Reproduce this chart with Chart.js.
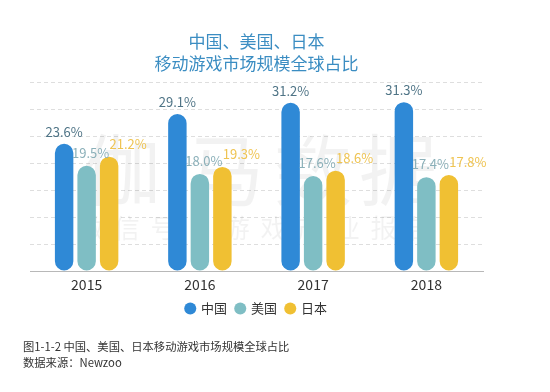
<!DOCTYPE html>
<html>
<head>
<meta charset="utf-8">
<script src="https://cdn.jsdelivr.net/npm/chart.js@4"></script>
<style>
  html, body { margin: 0; padding: 0; background: #fff; }
  #wrap { position: relative; width: 550px; height: 392px; }
  .note {
    position: absolute; left: 23px; font: 11.3px "Noto Sans CJK SC", sans-serif;
    color: #333; white-space: nowrap;
  }
</style>
</head>
<body>
<div id="wrap">
  <canvas id="shareChart" width="550" height="392"></canvas>
  <div class="note" style="top:338px">图1-1-2 中国、美国、日本移动游戏市场规模全球占比</div>
  <div class="note" style="top:354px">数据来源：Newzoo</div>
</div>
<script>
const years = ["2015", "2016", "2017", "2018"];
const chinaShare = [23.6, 29.1, 31.2, 31.3];
const usShare = [19.5, 18.0, 17.6, 17.4];
const japanShare = [21.2, 19.3, 18.6, 17.8];

const FONT = '"Noto Sans CJK SC", "Noto Sans", sans-serif';

// label placement per series (relative to bar top)
const labelStyle = [
  { color: "#4f7486", dx: 0, dy: -12 },
  { color: "#8bb0b9", dx: 4, dy: -13 },
  { color: "#efc452", dx: 19, dy: -13 },
];

const valueLabels = {
  id: "valueLabels",
  afterDatasetsDraw(chart) {
    const ctx = chart.ctx;
    ctx.save();
    ctx.font = "13px " + FONT;
    ctx.textAlign = "center";
    ctx.textBaseline = "middle";
    chart.data.datasets.forEach((ds, i) => {
      const st = labelStyle[i];
      chart.getDatasetMeta(i).data.forEach((bar, j) => {
        ctx.fillStyle = st.color;
        ctx.fillText(ds.data[j].toFixed(1) + "%", bar.x + st.dx, bar.y + st.dy);
      });
    });
    ctx.restore();
  },
};

// faint watermark behind the bars
const watermark = {
  id: "watermark",
  beforeDatasetsDraw(chart) {
    const ctx = chart.ctx;
    ctx.save();
    ctx.fillStyle = "rgba(0,0,0,0.05)";
    ctx.textAlign = "center";
    ctx.textBaseline = "middle";
    ctx.font = "78px " + FONT;
    [["伽", 122], ["马", 225], ["数", 313], ["据", 398]].forEach(([t, x]) => {
      ctx.fillText(t, x, 170);
    });
    ctx.font = "26px " + FONT;
    "微信号：游戏产业报告".split("").forEach((t, k) => {
      ctx.fillText(t, 90 + k * 36.7, 228);
    });
    ctx.restore();
  },
};

const ctx = document.getElementById("shareChart").getContext("2d");

new Chart(ctx, {
  type: "bar",
  data: {
    labels: years,
    datasets: [
      { label: "中国", data: chinaShare, backgroundColor: "#2f89d6" },
      { label: "美国", data: usShare, backgroundColor: "#7fbec4" },
      { label: "日本", data: japanShare, backgroundColor: "#f0c033" },
    ],
  },
  options: {
    responsive: false,
    animation: false,
    layout: { padding: { left: 30, right: 67, top: 30, bottom: 67 } },
    datasets: {
      bar: {
        categoryPercentage: 0.596,
        barPercentage: 0.82,
        borderRadius: 10,
        borderSkipped: false,
      },
    },
    scales: {
      x: {
        grid: { display: false, drawTicks: false },
        border: { color: "#b8b8b8", width: 1 },
        ticks: { color: "#333", font: { size: 14, family: FONT }, padding: 5 },
        afterFit: (scale) => {
          scale.height = 22; // keep the legend close to the year labels
        },
      },
      y: {
        min: 0,
        max: 35,
        ticks: { display: false, stepSize: 5 },
        grid: { color: "#dedede", drawTicks: false },
        border: { display: false, dash: [4, 3] },
      },
    },
    plugins: {
      title: {
        display: true,
        text: ["中国、美国、日本", "移动游戏市场规模全球占比"],
        color: "#3b8dc2",
        font: { size: 17, family: FONT, weight: "normal", lineHeight: 1.3 },
        padding: { top: 0, bottom: 8 },
      },
      legend: {
        position: "bottom",
        labels: {
          usePointStyle: true,
          pointStyle: "circle",
          boxWidth: 8.5,
          boxHeight: 8.5,
          padding: 9,
          color: "#333",
          font: { size: 13, family: FONT },
        },
      },
      tooltip: { enabled: false },
    },
  },
  plugins: [watermark, valueLabels],
});
</script>
</body>
</html>
